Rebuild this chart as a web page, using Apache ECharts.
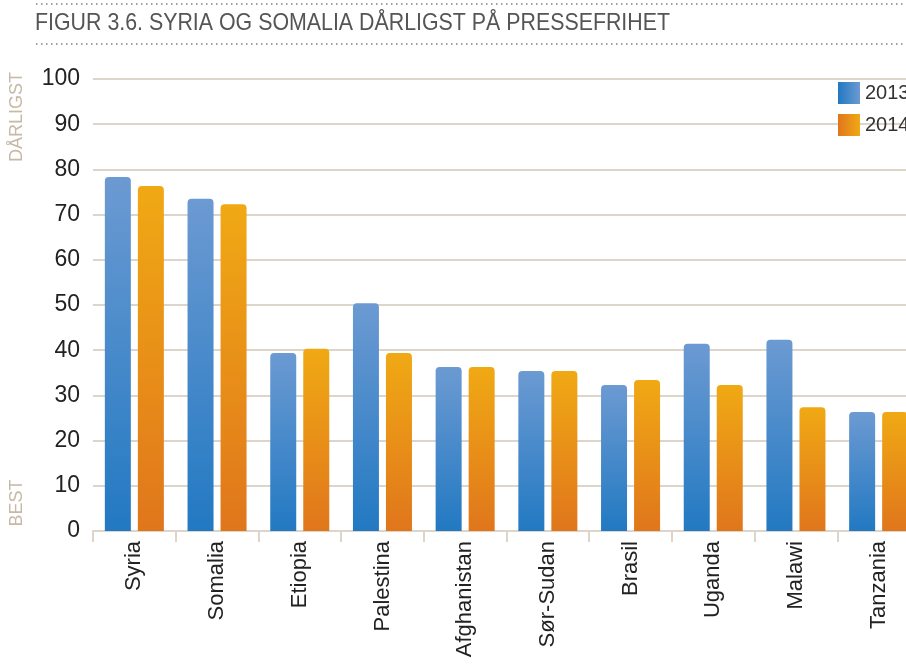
<!DOCTYPE html>
<html>
<head>
<meta charset="utf-8">
<script src="https://cdn.jsdelivr.net/npm/echarts@6/dist/echarts.min.js"></script>
<style>
  html, body { margin: 0; padding: 0; background: #fff; }
  #chart { width: 906px; height: 664px; }
</style>
</head>
<body>
<div id="chart"></div>
<script>
const countries = ['Syria', 'Somalia', 'Etiopia', 'Palestina', 'Afghanistan', 'Sør-Sudan', 'Brasil', 'Uganda', 'Malawi', 'Tanzania']
const values2013 = [78.3, 73.5, 39.4, 50.4, 36.3, 35.4, 32.3, 41.4, 42.3, 26.3]
const values2014 = [76.3, 72.3, 40.3, 39.4, 36.3, 35.4, 33.4, 32.3, 27.4, 26.3]
const yTicks = [0, 10, 20, 30, 40, 50, 60, 70, 80, 90, 100]

const BEIGE = '#ddd5ca'
const FONT = "'Liberation Sans', Arial, sans-serif"

const vGrad = (top, bottom) => ({
  type: 'linear', x: 0, y: 0, x2: 0, y2: 1,
  colorStops: [{ offset: 0, color: top }, { offset: 1, color: bottom }]
})
const hGrad = (left, right) => ({
  type: 'linear', x: 0, y: 0, x2: 1, y2: 0,
  colorStops: [{ offset: 0, color: left }, { offset: 1, color: right }]
})

const chart = echarts.init(document.getElementById('chart'))

chart.setOption({
  animation: false,
  textStyle: { fontFamily: FONT },
  // the plot runs past the right edge of the picture, as in the original
  grid: { left: 93, width: 827, top: 79, bottom: 133, outerBoundsMode: 'none' },
  legend: {
    left: 833,
    top: 77,
    orient: 'vertical',
    itemWidth: 22,
    itemHeight: 22,
    itemGap: 10,
    icon: 'rect',
    textStyle: { fontSize: 20, color: '#333', fontFamily: FONT },
    data: [
      { name: '2013', itemStyle: { color: hGrad('#2279c2', '#6c9ad2') } },
      { name: '2014', itemStyle: { color: hGrad('#e0761c', '#f0a914') } }
    ]
  },
  xAxis: {
    type: 'category',
    data: countries,
    axisLine: { lineStyle: { color: BEIGE, width: 2 } },
    axisTick: { show: true, length: 11, lineStyle: { color: BEIGE, width: 2 } },
    axisLabel: {
      rotate: 90,
      fontSize: 22,
      color: '#222',
      margin: 10,
      interval: 0,
      padding: [0, 0, 14, 0]
    }
  },
  yAxis: {
    type: 'value',
    min: yTicks[0],
    max: yTicks[yTicks.length - 1],
    interval: 10,
    axisLine: { show: false },
    axisTick: { show: false },
    splitLine: { lineStyle: { color: BEIGE, width: 2 } },
    axisLabel: { fontSize: 23, color: '#222', margin: 13 }
  },
  series: [
    {
      name: '2013',
      type: 'bar',
      data: values2013,
      barWidth: 26,
      barGap: '27%',
      itemStyle: { color: vGrad('#6c9ad2', '#2279c2'), borderRadius: [4, 4, 0, 0] }
    },
    {
      name: '2014',
      type: 'bar',
      data: values2014,
      barWidth: 26,
      itemStyle: { color: vGrad('#f0a914', '#e0761c'), borderRadius: [4, 4, 0, 0] }
    }
  ],
  graphic: [
    {
      type: 'line',
      shape: { x1: 36, y1: 4, x2: 906, y2: 4 },
      style: { stroke: '#808080', lineWidth: 1.5, lineDash: [1.5, 3.5] }
    },
    {
      type: 'line',
      shape: { x1: 36, y1: 44, x2: 906, y2: 44 },
      style: { stroke: '#808080', lineWidth: 1.5, lineDash: [1.5, 3.5] }
    },
    {
      type: 'text',
      x: 35,
      y: 23,
      scaleX: 0.89,
      style: {
        text: 'FIGUR 3.6. SYRIA OG SOMALIA DÅRLIGST PÅ PRESSEFRIHET',
        font: "24px 'Liberation Sans', sans-serif",
        fill: '#555',
        verticalAlign: 'middle'
      }
    },
    {
      type: 'text',
      x: 17,
      y: 117,
      rotation: Math.PI / 2,
      style: {
        text: 'DÅRLIGST',
        font: "18px 'Liberation Sans', sans-serif",
        fill: '#c6b9a6',
        align: 'center',
        verticalAlign: 'middle'
      }
    },
    {
      type: 'text',
      x: 17,
      y: 503,
      rotation: Math.PI / 2,
      style: {
        text: 'BEST',
        font: "18px 'Liberation Sans', sans-serif",
        fill: '#c6b9a6',
        align: 'center',
        verticalAlign: 'middle'
      }
    }
  ]
})
</script>
</body>
</html>
